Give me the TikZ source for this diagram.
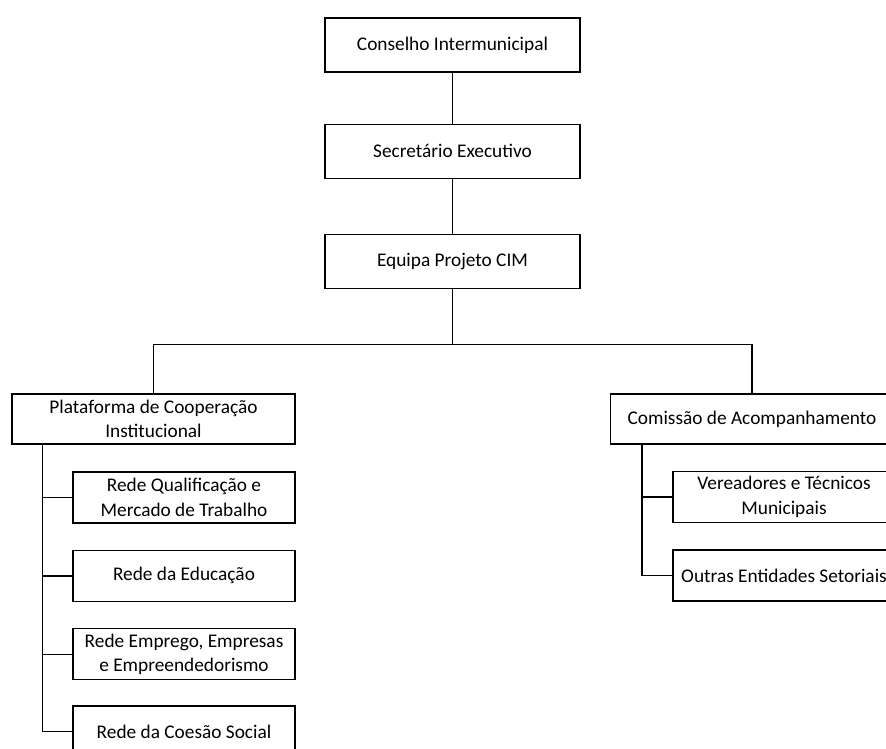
\documentclass[tikz,border=0pt]{standalone}
\usepackage{fontspec}
\setmainfont{Carlito}
\usetikzlibrary{positioning}

\begin{document}
\begin{tikzpicture}[x=0.02cm,y=-0.02cm,line width=0.8pt,
    font=\fontsize{11}{14}\selectfont,
    box/.style={draw,align=center,inner sep=2pt},
    topbox/.style={box,minimum width=5.1cm,minimum height=1.08cm},
    headbox/.style={box,minimum width=5.66cm,minimum height=1cm},
    subbox/.style={box,minimum width=4.44cm,minimum height=1.02cm}]

    \clip (0,0) rectangle (886,749);

    \node[topbox] (conselho) at (452.5,45) {Conselho Intermunicipal};
    \node[topbox] (secretario) [below=1.02cm of conselho] {Secretário Executivo};
    \node[topbox] (equipa) [below=1.1cm of secretario] {Equipa Projeto CIM};

    \node[headbox] (plataforma) at (153.5,419) {Plataforma de Cooperação\\Institucional};
    \node[headbox] (comissao) at (752,419) {Comissão de Acompanhamento};

    % plataforma
    \node[subbox] (qualificacao) at (184,497.5) {Rede Qualificação e\\Mercado de Trabalho};
    \node[subbox] (educacao) [below=0.52cm of qualificacao] {Rede da Educação};
    \node[subbox] (emprego) [below=0.52cm of educacao] {Rede Emprego, Empresas\\e Empreendedorismo};
    \node[subbox] (coesao) [below=0.5cm of emprego] {Rede da Coesão Social};

    % comissao
    \node[subbox] (vereadores) at (784,497) {Vereadores e Técnicos\\Municipais};
    \node[subbox] (outras) [below=0.52cm of vereadores] {Outras Entidades Setoriais};

    \draw (conselho) -- (secretario);
    \draw (secretario) -- (equipa);
    \draw (equipa.south) -- ++(0,55) coordinate (bus);
    \draw (bus) -| (plataforma.north);
    \draw (bus) -| (comissao.north);

    \coordinate (platspine) at ([xshift=0.62cm]plataforma.south west);
    \coordinate (comspine) at ([xshift=0.64cm]comissao.south west);

    \foreach \to in {qualificacao,educacao,emprego,coesao}
        \draw (platspine) |- (\to.west);

    \foreach \to in {vereadores,outras}
        \draw (comspine) |- (\to.west);

\end{tikzpicture}
\end{document}
